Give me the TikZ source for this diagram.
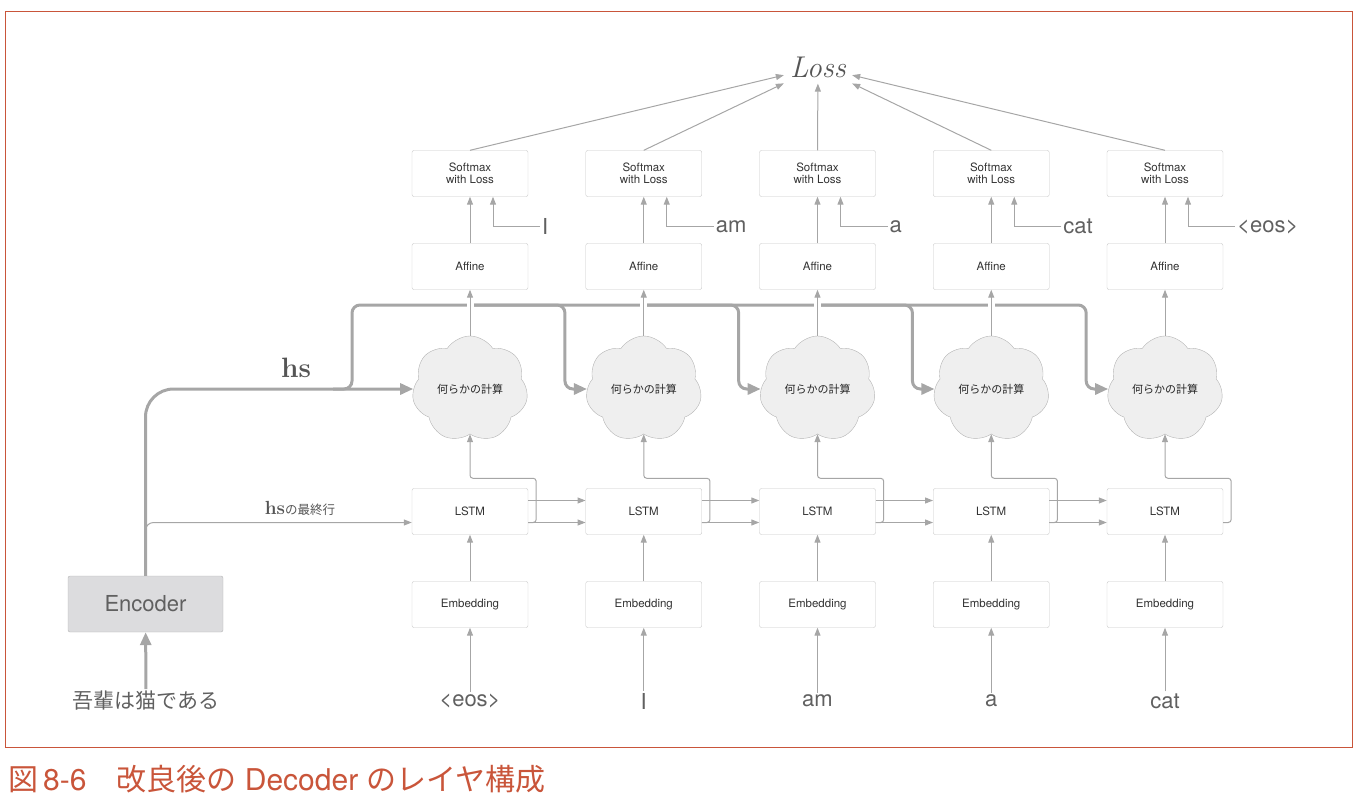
\documentclass[tikz,border=0pt]{standalone}
\usepackage{fontspec}
\setsansfont{TeX Gyre Heros}
\newfontfamily\jp{Noto Sans CJK JP}
\usetikzlibrary{shapes.geometric,shapes.symbols,arrows.meta,positioning}

\definecolor{linegray}{HTML}{A6A6A6}
\definecolor{boxgray}{HTML}{C6C6C6}
\definecolor{cloudfill}{HTML}{EFEFEF}
\definecolor{cloudline}{HTML}{B4B4B4}
\definecolor{encfill}{HTML}{DCDCDE}
\definecolor{textgray}{HTML}{555555}
\definecolor{wordgray}{HTML}{606060}
\definecolor{capred}{HTML}{C9553A}

\tikzset{
  layerbox/.style={draw=boxgray, rounded corners=2pt, minimum width=116pt,
    minimum height=46pt, inner sep=2pt, align=center,
    font=\sffamily\fontsize{11.5pt}{12.5pt}\selectfont, text=black!80},
  cloudbox/.style={cloud, cloud puffs=7, cloud puff arc=115, aspect=1.1, draw=cloudline,
    fill=cloudfill, minimum width=116pt, minimum height=106pt, inner sep=0pt,
    font=\jp\fontsize{11pt}{12pt}\selectfont, text=black!85},
  word/.style={inner sep=2pt, font=\sffamily\fontsize{22pt}{24pt}\selectfont, text=wordgray},
  flow/.style={draw=linegray, line width=1pt, -{Triangle[length=8pt,width=6pt]}},
  hsline/.style={draw=linegray, line width=3pt, rounded corners=8pt},
  hsend/.style={-{Triangle[length=13pt,width=11pt]}},
}

\begin{document}
\begin{tikzpicture}[x=1pt,y=-1pt]
\useasboundingbox (0,0) rectangle (1362,798);
\draw[capred, line width=1pt] (5,11) rectangle (1352,747);
\node[anchor=west, text=capred, inner sep=0pt, font=\sffamily\fontsize{30pt}{32pt}\selectfont] (cap) at (8,779)
  {{\jp 図}\,8-6{\jp 　改良後の} Decoder {\jp のレイヤ構成}};

% decoder layers, one column per time step
\foreach \i/\w/\t in {1/{<eos>}/I, 2/I/am, 3/am/a, 4/a/cat, 5/cat/{<eos>}}{
  \pgfmathsetmacro\x{470+173.75*(\i-1)}
  \node[layerbox] (s\i) at (\x,173.5) {Softmax\\with Loss};
  \node[layerbox] (a\i) at (\x,266.5) {Affine};
  \node[cloudbox] (c\i) at (\x,389) {何らかの計算};
  \node[layerbox] (l\i) at (\x,511.5) {LSTM};
  \node[layerbox] (e\i) at (\x,604.5) {Embedding};
  \node[word] (w\i) at (\x,701) {\w};
  \node[word, anchor=west] (t\i) at ([xshift=70pt,yshift=-30pt]s\i.south) {\t};
}

\node[font=\itshape\fontsize{30pt}{32pt}\selectfont, text=textgray, inner sep=6pt] (loss) at (818,67) {Loss};
\node[draw=cloudline, fill=encfill, rounded corners=2pt, minimum width=155pt, minimum height=56pt,
  font=\sffamily\fontsize{22pt}{24pt}\selectfont, text=wordgray] (enc) at (145.5,604) {Encoder};
\node[word, font=\jp\fontsize{21pt}{24pt}\selectfont] (src) at (146,701) {吾輩は猫である};
\node[font=\bfseries\fontsize{28pt}{30pt}\selectfont, text=textgray] (hs) at (296,368) {hs};
\node[text=textgray] (hslast) at (300,508)
  {{\bfseries\fontsize{19pt}{20pt}\selectfont hs}{\jp\fontsize{12.5pt}{14pt}\selectfont の最終行}};
\coordinate (bus) at (352,305);

% encoder side
\draw[hsline, hsend] (src) -- (enc);
\draw[flow, rounded corners=8pt] (enc.north) |- ([yshift=-11pt]l1.west);
\draw[hsline, hsend, rounded corners=28pt] (enc.north) |- (c1.west);
\draw[hsline, hsend] ([xshift=-80pt]c1.west) -| (bus) -| ([xshift=-22pt]c5.west) -- (c5.west);
\foreach \i/\j in {2/1,3/2,4/3}
  \draw[hsline, hsend] (a\j |- bus) -| ([xshift=-22pt]c\i.west) -- (c\i.west);

% decoder columns
\foreach \i in {1,...,5}{
  \draw[flow] (t\i.west) -| ([xshift=23pt]s\i.south);
  \draw[flow] (w\i) -- (e\i);
  \draw[flow] (e\i) -- (l\i);
  \draw[flow, rounded corners=3pt] ([yshift=-11pt]l\i.east) -| ([xshift=8pt,yshift=10pt]l\i.north east) -| (c\i.south);
  \draw[flow, preaction={draw=white, line width=7pt, -, shorten <=3pt, shorten >=3pt}] (c\i) -- (a\i);
  \draw[flow] (a\i) -- (s\i);
  \draw[flow] (s\i.north) -- (loss);
}
\foreach \i/\j in {1/2,2/3,3/4,4/5}{
  \draw[flow] ([yshift=11pt]l\i.east) -- ([yshift=11pt]l\j.west);
  \draw[flow] ([yshift=-11pt]l\i.east) -- ([yshift=-11pt]l\j.west);
}
\end{tikzpicture}
\end{document}
